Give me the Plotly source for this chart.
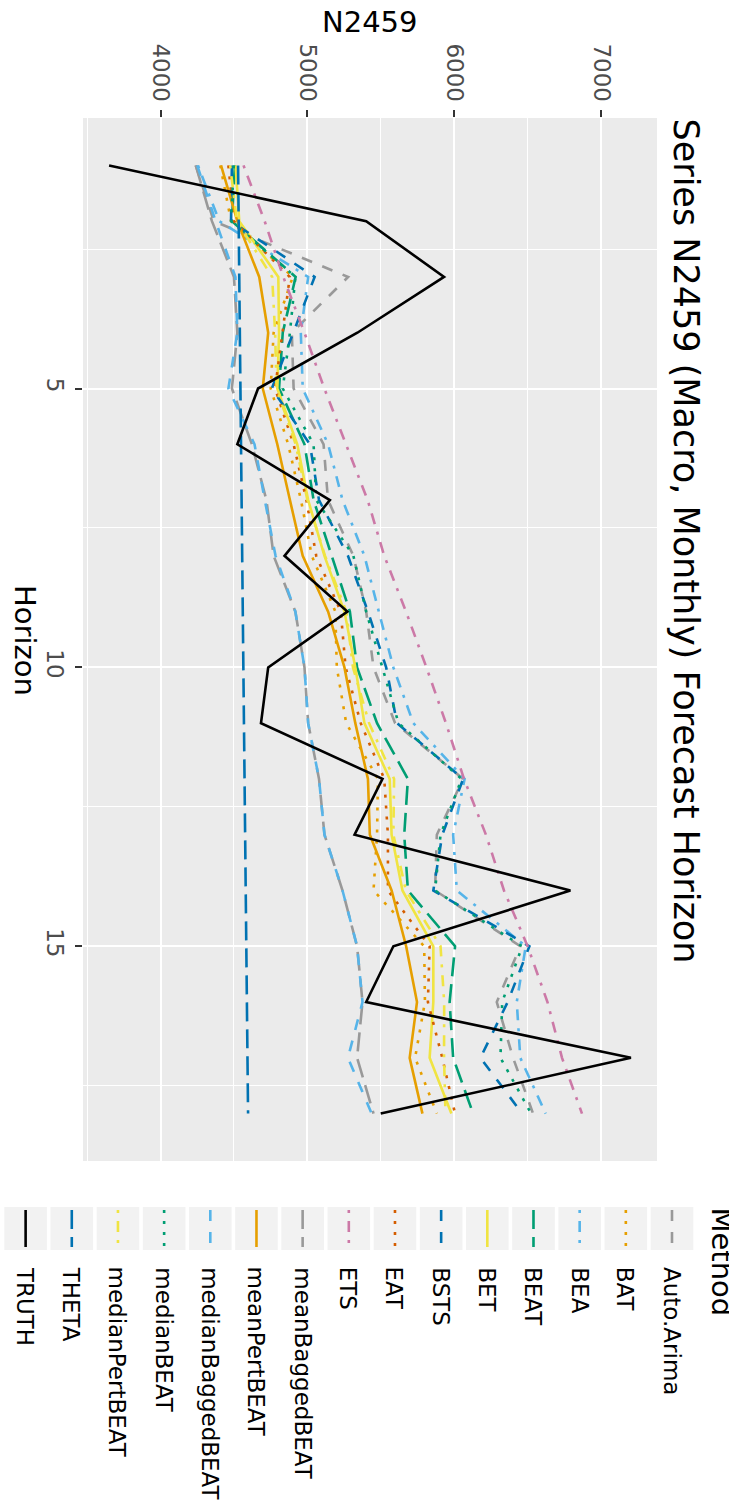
import plotly.graph_objects as go

# ---------------- data ----------------
horizon = list(range(1, 19))

methods = ["Auto.Arima", "BAT", "BEA", "BEAT", "BET", "BSTS", "EAT", "ETS",
           "meanBaggedBEAT", "meanPertBEAT", "medianBaggedBEAT", "medianBEAT",
           "medianPertBEAT", "THETA", "TRUTH"]

auto_arima = [4240, 4363, 5277, 4894, 4906, 5110, 5140, 5313, 5400, 5450, 5597, 6060, 5881, 5869, 6449, 6289, 6400, 6536]
bat = [4407, 4480, 4900, 4770, 4750, 4869, 4956, 5030, 5190, 5200, 5264, 5480, 5474, 5450, 5795, 5800, 5733, 5881]
bea = [4255, 4400, 5005, 4955, 4968, 5141, 5239, 5388, 5486, 5585, 5721, 6070, 5992, 6017, 6486, 6425, 6449, 6622]
beat = [4506, 4486, 4920, 4832, 4807, 4980, 5042, 5165, 5289, 5338, 5474, 5684, 5659, 5684, 6005, 5968, 5992, 6128]
bet = [4511, 4536, 4802, 4807, 4795, 4931, 5005, 5116, 5252, 5326, 5388, 5560, 5573, 5647, 5857, 5857, 5832, 5980]
bsts = [4486, 4480, 5049, 4906, 4758, 5017, 5079, 5276, 5412, 5536, 5610, 6060, 5918, 5857, 6511, 6363, 6178, 6462]
eat = [4462, 4500, 4880, 4832, 4780, 4906, 4993, 5060, 5227, 5260, 5363, 5523, 5548, 5548, 5832, 5820, 5918, 6005]
ets = [4565, 4709, 4836, 4980, 5115, 5260, 5410, 5523, 5671, 5810, 5943, 6066, 6215, 6338, 6499, 6634, 6733, 6869]
mean_bagged_beat = [4240, 4350, 4500, 4523, 4486, 4622, 4721, 4770, 4918, 4980, 5005, 5079, 5116, 5239, 5338, 5375, 5338, 5450]
mean_pert_beat = [4412, 4523, 4672, 4733, 4696, 4795, 4881, 4968, 5141, 5252, 5326, 5412, 5425, 5573, 5672, 5746, 5696, 5783]
median_bagged_beat = [4250, 4375, 4510, 4523, 4462, 4640, 4710, 4783, 4918, 4980, 5005, 5079, 5116, 5239, 5338, 5375, 5276, 5437]
median_beat = [4499, 4480, 4918, 4881, 4832, 5042, 5060, 5313, 5400, 5511, 5620, 6050, 5906, 5869, 6462, 6326, 6314, 6523]
median_pert_beat = [4474, 4520, 4760, 4780, 4790, 4920, 5000, 5120, 5265, 5310, 5420, 5590, 5585, 5670, 5906, 5931, 5930, 5940]
theta = [4528, 4532, 4536, 4540, 4544, 4548, 4552, 4556, 4560, 4564, 4568, 4572, 4576, 4580, 4584, 4588, 4592, 4596]
truth = [3650, 5400, 5930, 5340, 4664, 4523, 5153, 4844, 5272, 4733, 4684, 5511, 5321, 6790, 5585, 5400, 7202, 5499]

series = [auto_arima, bat, bea, beat, bet, bsts, eat, ets, mean_bagged_beat,
          mean_pert_beat, median_bagged_beat, median_beat, median_pert_beat, theta, truth]

colors = ["#999999", "#E69F00", "#56B4E9", "#009E73", "#F0E442", "#0072B2", "#D55E00",
          "#CC79A7", "#999999", "#E69F00", "#56B4E9", "#009E73", "#F0E442", "#0072B2", "#000000"]
linetypes = ["dashed", "dotted", "dotdash", "longdash", "solid"] * 3

x_ticks = [4000, 5000, 6000, 7000]

# ---------------- styles ----------------
DASH = {"dashed": "11px,11px", "dotted": "3px,8px", "dotdash": "3px,8px,11px,8px",
        "longdash": "19px,8px", "solid": "solid"}
FONT = "DejaVu Sans"
W, H = 729, 1510
L, R, T, B = 83, 72, 118, 349
PW, PH = W - L - R, H - T - B
LW = 2.6


def px(x):
    return (x - L) / PW


def py(y):
    return 1 - (y - T) / PH


fig = go.Figure()
for name, vals, col, lt in zip(methods, series, colors, linetypes):
    fig.add_trace(go.Scatter(x=vals, y=horizon, mode="lines", name=name,
                             line=dict(color=col, width=LW, dash=DASH[lt]),
                             showlegend=False))

allv = [v for s in series for v in s]
vmin, vmax = min(allv), max(allv)
pad = 0.05 * (vmax - vmin)

fig.update_layout(
    width=W, height=H,
    margin=dict(l=L, r=R, t=T, b=B, pad=0, autoexpand=False),
    paper_bgcolor="white", plot_bgcolor="#EBEBEB",
    font=dict(family=FONT, color="#000000"),
    xaxis=dict(side="top", range=[vmin - pad, vmax + pad], tickmode="array", tickvals=x_ticks,
               ticks="outside", ticklen=7, tickwidth=2, tickcolor="#333333", automargin=False,
               tickangle=90, tickfont=dict(size=23, color="#4D4D4D", family=FONT),
               showgrid=True, gridcolor="white", gridwidth=2, zeroline=False, showline=False,
               minor=dict(tickmode="array", tickvals=[3500, 4500, 5500, 6500],
                          showgrid=True, gridcolor="white", gridwidth=1, ticks="")),
    yaxis=dict(range=[18.85, 0.15], tickmode="linear", tick0=0, dtick=5,
               ticks="outside", ticklen=7, tickwidth=2, tickcolor="#333333", automargin=False,
               tickangle=90, tickfont=dict(size=23, color="#4D4D4D", family=FONT),
               showgrid=True, gridcolor="white", gridwidth=2, zeroline=False, showline=False,
               minor=dict(tickmode="linear", tick0=0, dtick=2.5,
                          showgrid=True, gridcolor="white", gridwidth=1, ticks="")),
)

ann = []
ann.append(dict(text="N2459", x=px(370), y=py(22), xref="paper", yref="paper",
                xanchor="center", yanchor="middle", showarrow=False,
                font=dict(size=29, color="black", family=FONT)))
ann.append(dict(text="Horizon", x=px(25), y=py(640), xref="paper", yref="paper",
                xanchor="center", yanchor="middle", textangle=90, showarrow=False,
                font=dict(size=29, color="black", family=FONT)))
ann.append(dict(text="Series N2459 (Macro, Monthly) Forecast Horizon", x=px(686), y=py(116),
                xref="paper", yref="paper", xanchor="center", yanchor="top", textangle=90,
                showarrow=False, font=dict(size=35, color="black", family=FONT)))
ann.append(dict(text="Method", x=px(703), y=py(1205), xref="paper", yref="paper",
                xanchor="left", yanchor="top", textangle=90, showarrow=False,
                font=dict(size=29, color="black", family=FONT)))

shapes = []
pitch = 46.17
for i, (name, col, lt) in enumerate(zip(methods, colors, linetypes)):
    cx = 672 - i * pitch
    shapes.append(dict(type="rect", xref="paper", yref="paper",
                       x0=px(cx - 21.3), x1=px(cx + 21.3), y0=py(1207), y1=py(1250),
                       fillcolor="#F2F2F2", line=dict(width=0), layer="above"))
    shapes.append(dict(type="line", xref="paper", yref="paper",
                       x0=px(cx), x1=px(cx), y0=py(1210), y1=py(1247),
                       line=dict(color=col, width=LW, dash=DASH[lt]), layer="above"))
    ann.append(dict(text=name, x=px(cx), y=py(1265), xref="paper", yref="paper",
                    xanchor="center", yanchor="top", textangle=90, showarrow=False,
                    font=dict(size=23, color="black", family=FONT)))

fig.update_layout(annotations=ann, shapes=shapes)
fig.write_html("out.html", config={"displayModeBar": False},
               post_script="document.body.style.margin='0px';document.body.style.padding='0px';")
